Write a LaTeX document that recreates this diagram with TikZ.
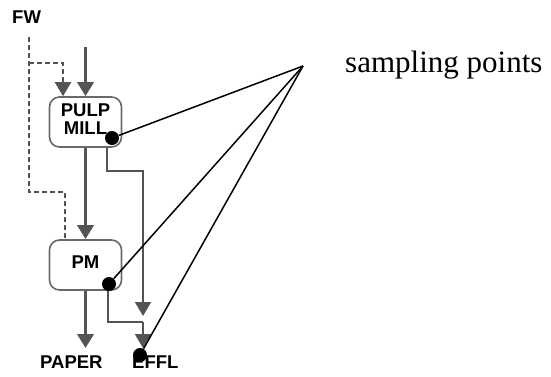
\documentclass[tikz,border=0pt]{standalone}
\usepackage{fontspec}
\setmainfont{Liberation Serif}
\setsansfont{Liberation Sans}
\usetikzlibrary{arrows.meta}
\definecolor{flowgray}{RGB}{84,84,84}
\definecolor{boxgray}{RGB}{105,105,105}

\tikzset{
  unit/.style={draw=boxgray,line width=1.6pt,rounded corners=10pt,minimum width=72pt,
    minimum height=50pt,inner sep=0pt,align=center,text depth=6pt,
    font=\sffamily\bfseries\fontsize{18.5}{18}\selectfont},
  tag/.style={inner sep=0pt,font=\sffamily\bfseries\fontsize{18.5}{18}\selectfont},
  bigtip/.style={-{Triangle[width=16pt,length=14pt]}},
  mainflow/.style={flowgray,line width=3.4pt,bigtip},
  sideflow/.style={flowgray,line width=1.8pt,bigtip},
  water/.style={flowgray,line width=2.2pt,dash pattern=on 5pt off 3pt},
  sample/.style={circle,fill=black,inner sep=0pt,minimum size=14pt},
  pointer/.style={black,line width=1.5pt}
}

\begin{document}
\begin{tikzpicture}[x=1pt,y=-1pt]
\useasboundingbox (0,0) rectangle (551,376);

% units and labels
\node[unit] (mill) at (85.5,122) {PULP\\MILL};
\node[unit] (pm) at (85.5,265) {PM};
\node[tag,anchor=base west] (fw) at (12,23) {FW};
\node[tag,anchor=base west] (paper) at (40,368) {PAPER};
\node[tag,anchor=base west] (effl) at (132,368) {EFFL};

\coordinate (fwline) at (29,37);
\coordinate (tap) at (29,63);
\coordinate (pulpin) at (85.5,47);
\coordinate (merge) at (143,322);

% fresh water
\draw[water] (fwline) -- (29,192) -| ([xshift=-20.5pt]pm.north);
\draw[water,bigtip] (tap) -| ([xshift=-22.5pt]mill.north);

% fibre line
\draw[mainflow] (pulpin) -- (mill.north);
\draw[mainflow] (mill.south) -- (pm.north);
\draw[mainflow,shorten >=7pt] (pm.south) -- (pm.south |- paper.north);

% effluents
\draw[sideflow] ([xshift=21.5pt]mill.south) -- ++(0,23) -| ([yshift=6pt]merge);
\draw[flowgray,line width=1.8pt] ([xshift=22.5pt]pm.south) |- (merge);
\draw[sideflow,shorten >=7pt] (merge) -- (merge |- effl.north);

% sampling points
\node[sample] (s1) at (112,138) {};
\node[sample] (s2) at (109,284) {};
\node[sample] (s3) at (140,355) {};
\coordinate (hub) at (303,66);
\draw[pointer] (hub) -- (s1);
\draw[pointer] (hub) -- (s2);
\draw[pointer] (hub) -- (s3);
\node[anchor=base west,inner sep=0pt,font=\fontsize{31}{36}\selectfont] (note) at (345,72) {sampling points};
\end{tikzpicture}
\end{document}
